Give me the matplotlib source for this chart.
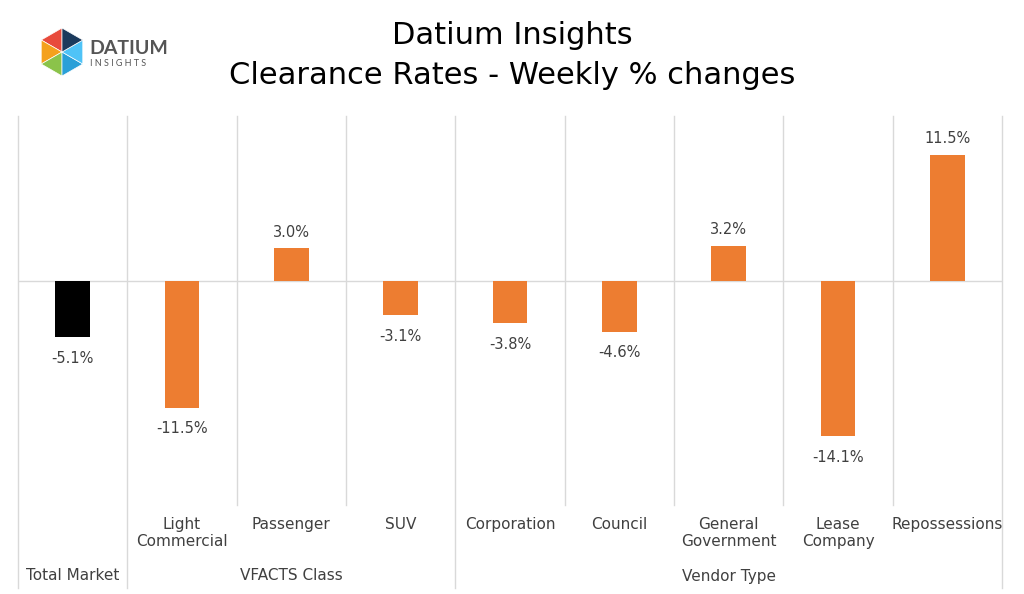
import math
import matplotlib.pyplot as plt
from matplotlib.patches import Polygon
from matplotlib.lines import Line2D

categories = ['', 'Light\nCommercial', 'Passenger', 'SUV', 'Corporation', 'Council',
              'General\nGovernment', 'Lease\nCompany', 'Repossessions']
values = [-5.1, -11.5, 3.0, -3.1, -3.8, -4.6, 3.2, -14.1, 11.5]
groups = ['Total Market', 'VFACTS Class', 'Vendor Type']
group_sizes = [1, 3, 5]

ORANGE = '#ED7D31'
GRID = '#D9D9D9'
TXT = '#404040'

plt.rcParams['font.family'] = ['DejaVu Sans']

W, H = 1024, 594
fig = plt.figure(figsize=(W / 100, H / 100), dpi=100)

# plot area in pixels
left, right, top, bottom = 18, 1002, 116, 501
ax = fig.add_axes([left / W, 1 - bottom / H, (right - left) / W, (bottom - top) / H])

n = len(values)
xs = list(range(n))
colors = ['black'] + [ORANGE] * (n - 1)
ax.bar(xs, values, width=0.32, color=colors, zorder=3)

ax.set_xlim(-0.5, n - 0.5)
ax.set_ylim(-20, 15)
ax.axhline(0, color=GRID, lw=1, zorder=1)
for s in ax.spines.values():
    s.set_visible(False)
ax.set_xticks([])
ax.set_yticks([])

# data labels
for x, v in zip(xs, values):
    if v >= 0:
        ax.annotate(f'{v:.1f}%', (x, v), xytext=(0, 6), textcoords='offset points',
                    ha='center', va='bottom', fontsize=10.5, color=TXT)
    else:
        ax.annotate(f'{v:.1f}%', (x, v), xytext=(0, -10), textcoords='offset points',
                    ha='center', va='top', fontsize=10.5, color=TXT)

# grid lines: short between categories, long at group boundaries
trans = ax.get_xaxis_transform()
ax_h = bottom - top
y_short = 1 - (505 - top) / ax_h
y_long = 1 - (588 - top) / ax_h
bounds = [-0.5]
acc = -0.5
for g in group_sizes:
    acc += g
    bounds.append(acc)
for k in range(n + 1):
    xb = k - 0.5
    ylow = y_long if xb in bounds else y_short
    ax.add_line(Line2D([xb, xb], [1, ylow], transform=trans, color=GRID, lw=1,
                       clip_on=False, zorder=1))

# category labels
y_cat = 1 - (517 - top) / ax_h
for x, c in zip(xs, categories):
    ax.text(x, y_cat, c, transform=trans, ha='center', va='top', fontsize=11,
            color=TXT, linespacing=1.2)

# group labels
y_grp = 1 - (576 - top) / ax_h
start = 0
for g, size in zip(groups, group_sizes):
    ax.text(start + (size - 1) / 2, y_grp, g, transform=trans, ha='center',
            va='center', fontsize=11, color=TXT)
    start += size

# title
fig.text(0.5, 1 - 35 / H, 'Datium Insights', ha='center', va='center', fontsize=22, color='black')
fig.text(0.5, 1 - 75 / H, 'Clearance Rates - Weekly % changes', ha='center', va='center',
         fontsize=22, color='black')

# logo
cx, cy, r = 62 / W, 1 - 52 / H, 24
pts = []
for i in range(6):
    a = math.radians(90 + 60 * i)
    pts.append((cx + r * math.cos(a) / W, cy + r * math.sin(a) / H))
tri_cols = ['#E84B3C', '#F4A11D', '#8BC34A', '#2AA0D8', '#4FC3F7', '#1B3A5C']
for i in range(6):
    p1 = pts[i]
    p2 = pts[(i + 1) % 6]
    fig.patches.append(Polygon([(cx, cy), p1, p2], closed=True, transform=fig.transFigure,
                               facecolor=tri_cols[i], edgecolor='white', lw=0.5))
fig.text(89 / W, 1 - 48 / H, 'DATIUM', ha='left', va='center', fontsize=14,
         color='#555555', fontweight='bold', family='Lato')
fig.text(90 / W, 1 - 63 / H, 'I N S I G H T S', ha='left', va='center', fontsize=6.5,
         color='#555555', family='Lato')

fig.savefig('out.png', dpi=100)
